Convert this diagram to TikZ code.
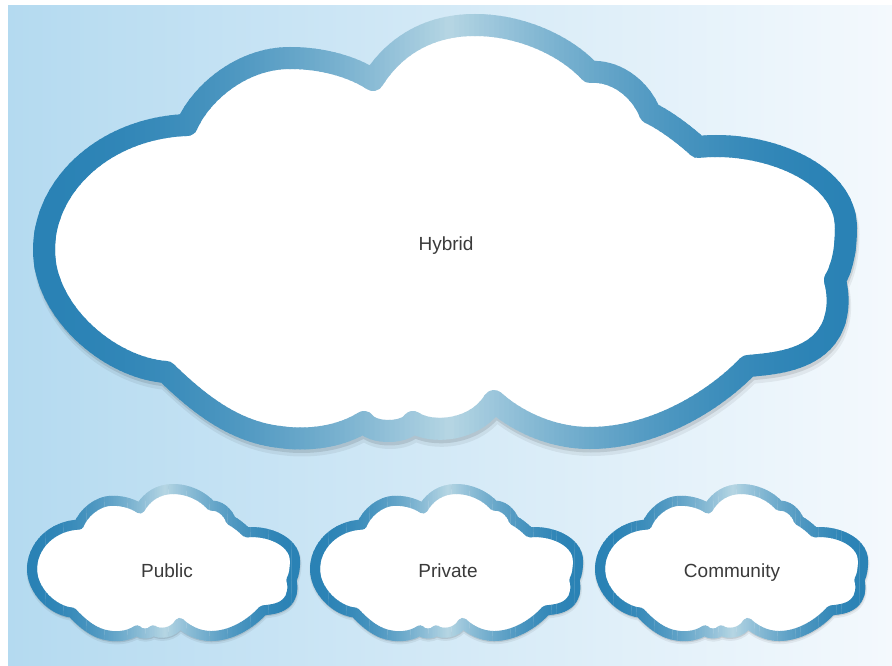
\documentclass[tikz,border=0pt]{standalone}
\usepackage{fontspec}
\setmainfont{Liberation Sans}
\definecolor{bgL}{HTML}{B4DAF0}
\definecolor{bgM}{HTML}{CFE8F6}
\definecolor{bgR}{HTML}{F4F9FD}
\definecolor{cdark}{HTML}{2A82B5}
\definecolor{clight}{HTML}{B6D6E4}
\definecolor{txt}{HTML}{3A3A3A}
\def\cloudpath{(166,372) .. controls (110,368) and (44,312) .. (44,250)
 .. controls (44,185) and (105,128) .. (187,125)
 .. controls (200,95) and (240,58) .. (290,58)
 .. controls (325,58) and (355,68) .. (373,80)
 .. controls (395,45) and (430,25) .. (475,25)
 .. controls (520,25) and (565,45) .. (590,72)
 .. controls (615,70) and (640,88) .. (650,113)
 .. controls (665,120) and (685,135) .. (698,147)
 .. controls (760,140) and (846,170) .. (846,228)
 .. controls (846,250) and (842,268) .. (835,280)
 .. controls (840,300) and (840,330) .. (815,348)
 .. controls (795,362) and (770,364) .. (748,366)
 .. controls (710,405) and (650,438) .. (590,438)
 .. controls (550,438) and (515,420) .. (494,401)
 .. controls (475,432) and (430,434) .. (413,422)
 .. controls (405,434) and (372,434) .. (364,422)
 .. controls (335,440) and (300,440) .. (280,437)
 .. controls (235,432) and (200,405) .. (166,372) -- cycle}
\newcommand\drawcloud[1]{%
  \draw[black, opacity=0.06, line width=#1+2pt, line join=round, shift={(1.5,6)}] \cloudpath;
  \draw[black, opacity=0.10, line width=#1, line join=round, shift={(1,3.5)}] \cloudpath;
  \fill[white] \cloudpath;
  \foreach \i in {0,...,170}{%
    \pgfmathsetmacro\xa{20+5*\i}%
    \pgfmathsetmacro\xc{\xa+2.5}%
    \pgfmathsetmacro\tt{min(1,abs(\xc-450)/405)}%
    \pgfmathsetmacro\p{100*(1-(1-\tt)^1.8)}%
    \begin{scope}
      \clip (\xa-0.6,-20) rectangle (\xa+5.6,480);
      \draw[cdark!\p!clight, line width=#1, line join=round] \cloudpath;
    \end{scope}
  }%
}
\tikzset{lbl/.style={font=\fontsize{19}{22}\selectfont, text=txt, anchor=base, inner sep=0pt}}
\begin{document}
\begin{tikzpicture}[x=1pt,y=-1pt]
\useasboundingbox (0,0) rectangle (892,666);
\fill[white] (0,0) rectangle (892,666);
\shade[left color=bgL, middle color=bgM, right color=bgR] (8,6) rectangle (892,666);
% big cloud
\drawcloud{22pt}
% small clouds
\begin{scope}[shift={(17.6,480.1)}, xscale=0.328, yscale=0.356]
\drawcloud{10pt}
\end{scope}
\begin{scope}[shift={(300.6,480.1)}, xscale=0.328, yscale=0.356]
\drawcloud{10pt}
\end{scope}
\begin{scope}[shift={(585.6,480.1)}, xscale=0.328, yscale=0.356]
\drawcloud{10pt}
\end{scope}
\node[lbl] (hybrid) at (446,250) {Hybrid};
\node[lbl] (public) at (167,577) {Public};
\node[lbl] (private) at (448,577) {Private};
\node[lbl] (community) at (732,577) {Community};
\end{tikzpicture}
\end{document}
